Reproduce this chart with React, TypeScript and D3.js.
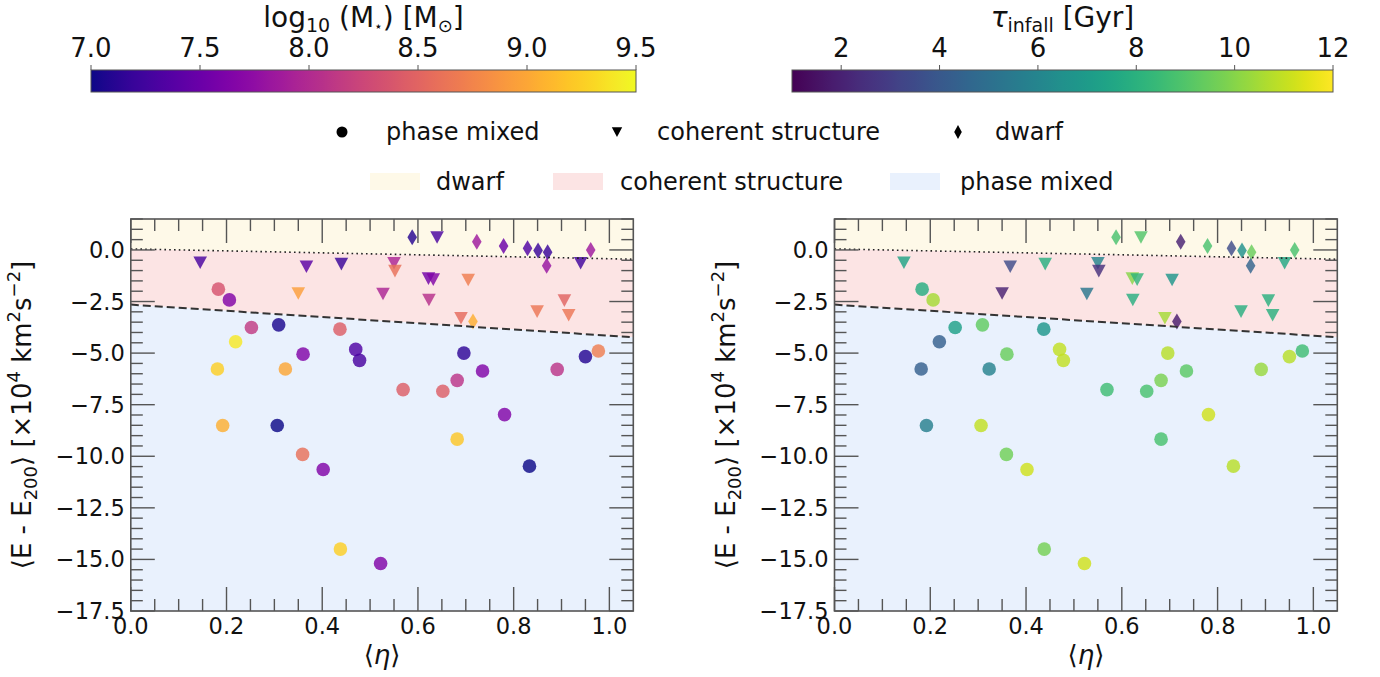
import React from 'react';
import * as d3 from 'd3';

// ---------- data ----------
// phase mixed (circles)
const pmEta = [0.183, 0.206, 0.252, 0.309, 0.219, 0.437, 0.36, 0.47, 0.478, 0.696, 0.95, 0.977, 0.181, 0.323, 0.735, 0.891, 0.569, 0.652, 0.682, 0.781, 0.192, 0.306, 0.682, 0.359, 0.402, 0.833, 0.438, 0.522];
const pmE = [-1.9, -2.42, -3.76, -3.63, -4.45, -3.84, -5.05, -4.82, -5.35, -5.0, -5.17, -4.9, -5.77, -5.77, -5.87, -5.79, -6.77, -6.85, -6.32, -7.98, -8.51, -8.51, -9.17, -9.91, -10.64, -10.48, -14.5, -15.2];
const pmMass = [8.35, 7.65, 8.15, 7.05, 9.4, 8.45, 7.65, 7.35, 7.3, 7.15, 7.1, 8.7, 9.25, 9.0, 7.65, 8.1, 8.45, 8.45, 8.1, 7.65, 9.05, 7.0, 9.2, 8.6, 7.65, 7.0, 9.25, 7.65];
const pmTau = [7.8, 10.5, 7.2, 9.3, 4.3, 6.8, 9.5, 11, 11, 10.8, 10.8, 8.6, 4.3, 5.8, 9.2, 10.3, 8.6, 8.8, 9.8, 11.2, 5.7, 11, 8.8, 9.6, 11.2, 10.8, 9.7, 11.2];

// coherent structure (triangles)
const csEta = [0.145, 0.367, 0.44, 0.55, 0.552, 0.64, 0.622, 0.632, 0.705, 0.35, 0.527, 0.623, 0.69, 0.849, 0.906, 0.915, 0.94];
const csE = [-0.61, -0.81, -0.68, -0.64, -1.02, 0.61, -1.38, -1.43, -1.45, -2.1, -2.13, -2.42, -3.3, -2.98, -2.45, -3.16, -0.64];
const csMass = [7.3, 7.4, 7.2, 7.95, 8.6, 7.3, 7.55, 7.65, 8.7, 8.95, 7.95, 8.05, 8.55, 8.65, 8.5, 8.65, 7.25];
const csTau = [7.4, 3.5, 7.9, 6.0, 2.5, 9.0, 10.0, 8.2, 6.8, 2.0, 5.3, 7.9, 10.5, 7.9, 8.0, 8.0, 7.6];

// dwarf (thin diamonds)
const dwEta = [0.588, 0.723, 0.779, 0.829, 0.851, 0.871, 0.869, 0.961, 0.715];
const dwE = [0.61, 0.4, 0.19, 0.08, -0.03, -0.11, -0.77, 0.0, -3.47];
const dwMass = [7.1, 7.85, 7.5, 7.35, 7.2, 7.2, 7.8, 7.85, 9.05];
const dwTau = [8.8, 2.0, 8.8, 3.5, 6.5, 9.5, 4.5, 8.8, 1.8];

// boundaries (eta, E)
const dwarfBoundary = [[0, 0.05], [1.05, -0.45]];
const coherentBoundary = [[0, -2.65], [1.05, -4.23]];

const xTicks = [0, 0.2, 0.4, 0.6, 0.8, 1.0];
const yTicks = [-17.5, -15.0, -12.5, -10.0, -7.5, -5.0, -2.5, 0.0];
const massTicks = [7.0, 7.5, 8.0, 8.5, 9.0, 9.5];
const tauTicks = [2, 4, 6, 8, 10, 12];

// ---------- layout ----------
const W = 1380, H = 677;
const FONT = '"DejaVu Sans", sans-serif';
const yTop = 219, yBot = 611;
const SPINE = '#555';
const FILL_DW = '#fef9e8';
const FILL_CS = '#fce4e4';
const FILL_PM = '#e9f1fd';

const massScale = d3.scaleSequential(d3.interpolatePlasma).domain([7.0, 9.5]);
const tauScale = d3.scaleSequential(d3.interpolateViridis).domain([1, 12]);

const tri = (r: number) => `M${-r},${-r * 0.9}L${r},${-r * 0.9}L0,${r * 0.95}Z`;
const dia = (w: number, h: number) => `M0,${-h}L${w},0L0,${h}L${-w},0Z`;

function Panel({ x0, x1, mode, id }: { x0: number; x1: number; mode: 'mass' | 'tau'; id: string }) {
  const x = d3.scaleLinear().domain([0, 1.05]).range([x0, x1]);
  const y = d3.scaleLinear().domain([-17.5, 1.5]).range([yBot, yTop]);
  const col = mode === 'mass' ? massScale : tauScale;
  const pm = pmEta.map((e, i) => ({ x: e, y: pmE[i], c: mode === 'mass' ? pmMass[i] : pmTau[i] }));
  const cs = csEta.map((e, i) => ({ x: e, y: csE[i], c: mode === 'mass' ? csMass[i] : csTau[i] }));
  const dw = dwEta.map((e, i) => ({ x: e, y: dwE[i], c: mode === 'mass' ? dwMass[i] : dwTau[i] }));
  const line = d3.line<number[]>().x(d => x(d[0])).y(d => y(d[1]));
  const [d0, d1] = dwarfBoundary;
  const [c0, c1] = coherentBoundary;
  const yellowPoly = `M${x(0)},${y(1.5)}L${x(1.05)},${y(1.5)}L${x(d1[0])},${y(d1[1])}L${x(d0[0])},${y(d0[1])}Z`;
  const pinkPoly = `M${x(d0[0])},${y(d0[1])}L${x(d1[0])},${y(d1[1])}L${x(c1[0])},${y(c1[1])}L${x(c0[0])},${y(c0[1])}Z`;
  const bluePoly = `M${x(c0[0])},${y(c0[1])}L${x(c1[0])},${y(c1[1])}L${x(1.05)},${y(-17.5)}L${x(0)},${y(-17.5)}Z`;

  const xMinor = d3.range(0, 21).map(i => i * 0.05).filter((v, i) => i % 4 !== 0 && v <= 1.05);
  const yMinor = d3.range(0, 39).map(i => -17.5 + i * 0.5).filter((v, i) => i % 5 !== 0);
  const MAJ = 24, MIN = 12;
  const ticks: JSX.Element[] = [];
  xTicks.forEach((t, i) => {
    const px = x(t);
    ticks.push(<line key={'xb' + i} x1={px} x2={px} y1={yBot} y2={yBot - MAJ} />);
    ticks.push(<line key={'xt' + i} x1={px} x2={px} y1={yTop} y2={yTop + MAJ} />);
  });
  xMinor.forEach((t, i) => {
    const px = x(t);
    ticks.push(<line key={'xmb' + i} x1={px} x2={px} y1={yBot} y2={yBot - MIN} />);
    ticks.push(<line key={'xmt' + i} x1={px} x2={px} y1={yTop} y2={yTop + MIN} />);
  });
  yTicks.forEach((t, i) => {
    const py = y(t);
    ticks.push(<line key={'yl' + i} x1={x0} x2={x0 + MAJ} y1={py} y2={py} />);
    ticks.push(<line key={'yr' + i} x1={x1} x2={x1 - MAJ} y1={py} y2={py} />);
  });
  yMinor.forEach((t, i) => {
    const py = y(t);
    ticks.push(<line key={'yml' + i} x1={x0} x2={x0 + MIN} y1={py} y2={py} />);
    ticks.push(<line key={'ymr' + i} x1={x1} x2={x1 - MIN} y1={py} y2={py} />);
  });

  const fmt = (v: number) => (v < 0 ? '\u2212' : '') + Math.abs(v).toFixed(1);
  const ylx = x0 - 100;
  const yc = (yTop + yBot) / 2;
  return (
    <g>
      <defs>
        <clipPath id={id}>
          <rect x={x0} y={yTop} width={x1 - x0} height={yBot - yTop} />
        </clipPath>
      </defs>
      <g clipPath={`url(#${id})`}>
        <path d={yellowPoly} fill={FILL_DW} />
        <path d={pinkPoly} fill={FILL_CS} />
        <path d={bluePoly} fill={FILL_PM} />
        {pm.map((p, i) => (
          <circle key={'pm' + i} cx={x(p.x)} cy={y(p.y)} r={6.8} fill={col(p.c)} fillOpacity={0.82} />
        ))}
        {cs.map((p, i) => (
          <path key={'cs' + i} d={tri(6.8)} transform={`translate(${x(p.x)},${y(p.y)})`} fill={col(p.c)} fillOpacity={0.82} />
        ))}
        {dw.map((p, i) => (
          <path key={'dw' + i} d={dia(4.8, 8)} transform={`translate(${x(p.x)},${y(p.y)})`} fill={col(p.c)} fillOpacity={0.82} />
        ))}
        <path d={line(dwarfBoundary) || ''} fill="none" stroke="#222" strokeWidth={1.6} strokeDasharray="1.6,3.2" />
        <path d={line(coherentBoundary) || ''} fill="none" stroke="#333" strokeWidth={2} strokeDasharray="8,4" />
      </g>
      <g stroke={SPINE} strokeWidth={1.4}>{ticks}</g>
      <rect x={x0} y={yTop} width={x1 - x0} height={yBot - yTop} fill="none" stroke={SPINE} strokeWidth={1.6} />
      <g fontFamily={FONT} fontSize={22.5} fill="#111">
        {xTicks.map((t, i) => (
          <text key={'xl' + i} x={x(t)} y={yBot + 23} textAnchor="middle">{t.toFixed(1)}</text>
        ))}
        {yTicks.map((t, i) => (
          <text key={'yl' + i} x={x0 - 6} y={y(t) + 8} textAnchor="end">{fmt(t)}</text>
        ))}
      </g>
      <text x={(x0 + x1) / 2} y={664} textAnchor="middle" fontFamily={FONT} fontSize={26} fill="#111">
        ⟨<tspan fontStyle="italic">η</tspan>⟩
      </text>
      <text transform={`translate(${ylx},${yc}) rotate(-90)`} textAnchor="middle" fontFamily={FONT} fontSize={26} fill="#111">
        ⟨E - E<tspan dy={6} fontSize={18}>200</tspan><tspan dy={-6}>⟩ [×10</tspan><tspan dy={-11} fontSize={18}>4</tspan><tspan dy={11}> km</tspan><tspan dy={-11} fontSize={18}>2</tspan><tspan dy={11}>s</tspan><tspan dy={-11} fontSize={18}>−2</tspan><tspan dy={11}>]</tspan>
      </text>
    </g>
  );
}

function Colorbar({ x0, x1, scale, domain, ticks, id, title }: { x0: number; x1: number; scale: (v: number) => string; domain: [number, number]; ticks: number[]; id: string; title: React.ReactNode }) {
  const s = d3.scaleLinear().domain(domain).range([x0, x1]);
  const stops = d3.range(0, 41).map(i => domain[0] + (i / 40) * (domain[1] - domain[0]));
  const cy0 = 70, cy1 = 92;
  return (
    <g>
      <defs>
        <linearGradient id={id} x1="0" x2="1" y1="0" y2="0">
          {stops.map((v, i) => (
            <stop key={i} offset={`${(i / 40) * 100}%`} stopColor={scale(v)} />
          ))}
        </linearGradient>
      </defs>
      <rect x={x0} y={cy0} width={x1 - x0} height={cy1 - cy0} fill={`url(#${id})`} stroke={SPINE} strokeWidth={1} />
      <g stroke={SPINE} strokeWidth={1}>
        {ticks.map((t, i) => (
          <line key={i} x1={s(t)} x2={s(t)} y1={cy0} y2={cy0 - 5} />
        ))}
      </g>
      <g fontFamily={FONT} fontSize={26} fill="#111">
        {ticks.map((t, i) => (
          <text key={i} x={s(t)} y={57} textAnchor="middle">{Number.isInteger(t) && domain[1] > 10 ? String(t) : t.toFixed(1)}</text>
        ))}
      </g>
      <text x={(x0 + x1) / 2} y={27} textAnchor="middle" fontFamily={FONT} fontSize={28} fill="#111">{title}</text>
    </g>
  );
}

export default function App() {
  return (
    <svg width={W} height={H} viewBox={`0 0 ${W} ${H}`} style={{ position: 'absolute', left: 0, top: 0, background: '#fff' }}>
      <rect x={0} y={0} width={W} height={H} fill="#fff" />
      <Colorbar x0={91} x1={636} scale={massScale} domain={[7.0, 9.5]} ticks={massTicks} id="cbm"
        title={<>log<tspan dy={5} fontSize={19}>10</tspan><tspan dy={-5}> (M</tspan><tspan dy={4} fontSize={14}>⋆</tspan><tspan dy={-4}>) [M</tspan><tspan dy={5} fontSize={18}>⊙</tspan><tspan dy={-5}>]</tspan></>} />
      <Colorbar x0={792} x1={1333} scale={tauScale} domain={[1, 12]} ticks={tauTicks} id="cbt"
        title={<><tspan fontStyle="italic">τ</tspan><tspan dy={5} fontSize={19}>infall</tspan><tspan dy={-5}> [Gyr]</tspan></>} />

      {/* legend row 1: markers */}
      <g fontFamily={FONT} fontSize={24} fill="#111">
        <circle cx={342} cy={132} r={5.5} fill="#000" />
        <text x={386} y={140}>phase mixed</text>
        <path d={tri(5.2)} transform="translate(617,132)" fill="#000" />
        <text x={657} y={140}>coherent structure</text>
        <path d={dia(3.8, 7)} transform="translate(958,132)" fill="#000" />
        <text x={995} y={140}>dwarf</text>
      </g>
      {/* legend row 2: regions */}
      <g fontFamily={FONT} fontSize={24} fill="#111">
        <rect x={370} y={173} width={50} height={17} fill={FILL_DW} />
        <text x={436} y={190}>dwarf</text>
        <rect x={553} y={173} width={50} height={17} fill={FILL_CS} />
        <text x={620} y={190}>coherent structure</text>
        <rect x={890} y={173} width={50} height={17} fill={FILL_PM} />
        <text x={960} y={190}>phase mixed</text>
      </g>

      <Panel x0={130.8} x1={633.3} mode="mass" id="clipL" />
      <Panel x0={834.5} x1={1337.3} mode="tau" id="clipR" />
    </svg>
  );
}
